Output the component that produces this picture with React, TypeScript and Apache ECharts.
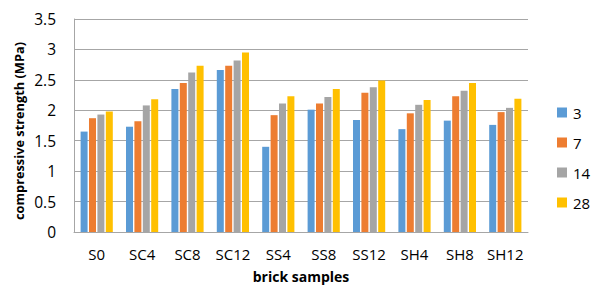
import React, { useEffect, useRef } from "react";
import * as echarts from "echarts";

const categories = ["S0", "SC4", "SC8", "SC12", "SS4", "SS8", "SS12", "SH4", "SH8", "SH12"];
const seriesNames = ["3", "7", "14", "28"];
const day3 = [1.65, 1.73, 2.35, 2.66, 1.4, 2.01, 1.84, 1.69, 1.83, 1.76];
const day7 = [1.87, 1.82, 2.45, 2.73, 1.92, 2.11, 2.29, 1.95, 2.23, 1.97];
const day14 = [1.93, 2.08, 2.62, 2.82, 2.11, 2.22, 2.38, 2.09, 2.32, 2.04];
const day28 = [1.98, 2.18, 2.73, 2.95, 2.23, 2.35, 2.49, 2.17, 2.45, 2.19];
const colors = ["#5B9BD5", "#ED7D31", "#A5A5A5", "#FFC000"];
const yTitle = "compressive strength (MPa)";
const xTitle = "brick samples";

export default function App() {
  const ref = useRef<HTMLDivElement>(null);
  useEffect(() => {
    if (!ref.current) return;
    const chart = echarts.init(ref.current, undefined, { renderer: "svg" });
    const font = "'Open Sans', 'Noto Sans', sans-serif";
    const data = [day3, day7, day14, day28];
    chart.setOption({
      animation: false,
      color: colors,
      textStyle: { fontFamily: font },
      grid: { left: 74, right: 66, top: 19, bottom: 55, outerBoundsMode: "none", containLabel: false },
      legend: {
        orient: "vertical",
        left: 557,
        top: 105,
        padding: 0,
        itemWidth: 10,
        itemHeight: 10,
        itemGap: 15,
        icon: "rect",
        textStyle: { fontSize: 15, color: "#000", fontFamily: font, padding: [0, 0, 0, 1] },
        data: seriesNames,
      },
      graphic: [
        {
          type: "text",
          x: 19,
          y: 131,
          rotation: Math.PI / 2,
          style: {
            text: yTitle,
            fontSize: 12.8,
            fontWeight: "bold",
            fontFamily: font,
            fill: "#000",
            textAlign: "center",
            textVerticalAlign: "middle",
          },
        },
      ],
      xAxis: {
        type: "category",
        data: categories,
        name: xTitle,
        nameLocation: "middle",
        nameGap: 37,
        nameTextStyle: { fontSize: 14, fontWeight: "bold", color: "#000", fontFamily: font },
        axisLine: { lineStyle: { color: "#A6A6A6", width: 1 } },
        axisTick: { show: false },
        axisLabel: { interval: 0, fontSize: 15, color: "#000", margin: 14, fontFamily: font },
      },
      yAxis: {
        type: "value",
        min: 0,
        max: 3.5,
        interval: 0.5,
        axisLine: { show: true, lineStyle: { color: "#A6A6A6", width: 1 } },
        axisTick: { show: false },
        splitLine: { lineStyle: { color: "#A6A6A6", width: 1 } },
        axisLabel: { fontSize: 15.5, color: "#000", margin: 18, fontFamily: font },
      },
      series: seriesNames.map((n, i) => ({
        name: n,
        type: "bar",
        data: data[i],
        barWidth: 7,
        barGap: "20%",
        itemStyle: { color: colors[i] },
      })),
    });
    return () => chart.dispose();
  }, []);
  return (
    <div
      ref={ref}
      style={{ position: "fixed", left: 0, top: 0, width: 594, height: 287, background: "#fff" }}
    />
  );
}
